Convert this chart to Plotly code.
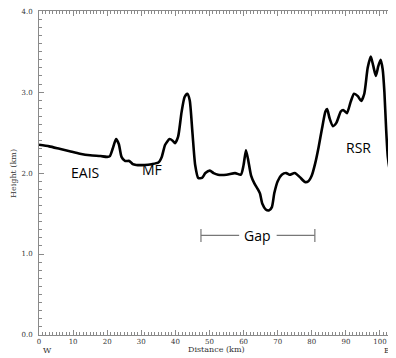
import plotly.graph_objects as go

# Profile data (distance km, height km)
distance_km = [0, 3, 6, 9, 12, 15, 18, 20, 20.8, 21.6, 22.6, 23.4, 24.2, 25.2, 26.5, 27.5, 28.5,
               31, 33, 35, 36, 37, 38.3, 39.2, 39.9, 40.8, 41.8, 42.7, 43.5, 44.2, 45.0, 45.8,
               46.7, 47.8, 48.8, 50.1, 51.2, 52.5, 55, 57.5, 59.2, 60, 60.7, 61.4, 62.2, 63.2,
               64.2, 64.8, 65.5, 66.5, 67.5, 68.3, 69, 70, 71.2, 72.5, 73.5, 75.0, 76.5, 78.0,
               79.0, 80.0, 81.0, 82.0, 83.0, 84.0, 84.5, 85.2, 86.2, 87.2, 88.5, 89.2, 90.3,
               91.4, 92.4, 93.5, 94.5, 95.4, 96.4, 97.3, 98.0, 98.8, 99.5, 100.2, 100.8, 101.3,
               101.8, 102.3, 102.9, 103.6, 104.7]
height_km = [2.35, 2.33, 2.30, 2.27, 2.24, 2.22, 2.21, 2.20, 2.21, 2.30, 2.42, 2.36, 2.20, 2.15,
             2.15, 2.11, 2.10, 2.10, 2.11, 2.13, 2.20, 2.35, 2.42, 2.40, 2.37, 2.45, 2.75, 2.94,
             2.98, 2.90, 2.50, 2.10, 1.94, 1.94, 2.00, 2.03, 2.00, 1.98, 1.98, 2.00, 1.98, 2.10,
             2.28, 2.15, 1.97, 1.87, 1.80, 1.75, 1.62, 1.55, 1.54, 1.58, 1.75, 1.90, 1.98, 2.00,
             1.98, 2.00, 1.95, 1.89, 1.90, 1.97, 2.12, 2.32, 2.55, 2.76, 2.79, 2.68, 2.58, 2.62,
             2.76, 2.78, 2.74, 2.88, 2.98, 2.95, 2.89, 2.98, 3.30, 3.44, 3.33, 3.20, 3.32, 3.40,
             3.28, 3.00, 2.55, 2.20, 2.04, 1.99, 1.98]

x_ticks = [0, 10, 20, 30, 40, 50, 60, 70, 80, 90, 100]
y_ticks = [0.0, 1.0, 2.0, 3.0, 4.0]
y_tick_labels = ["0.0", "1.0", "2.0", "3.0", "4.0"]

region_labels = ["EAIS", "MF", "RSR"]
region_x = [13.5, 33.1, 93.8]
region_y = [2.01, 2.04, 2.31]

gap_start, gap_end, gap_y, gap_label_x = 47.5, 80.9, 1.23, 64.2

x_range = [0, 104.7]
y_range = [0, 4.002]

fig = go.Figure()
fig.add_trace(go.Scatter(x=distance_km, y=height_km, mode="lines",
                         line=dict(color="black", width=2.6, shape="spline", smoothing=0.6),
                         hoverinfo="skip", showlegend=False))

axis_color = "#8a8a8a"
tick_font = dict(family="DejaVu Serif", size=7, color="#333333")

fig.update_xaxes(range=x_range, tickvals=x_ticks, ticks="inside", ticklen=5, tickcolor=axis_color,
                 tickwidth=1, showline=True, linecolor=axis_color, linewidth=1, mirror="ticks",
                 showgrid=False, zeroline=False, tickfont=tick_font,
                 minor=dict(dtick=1, tick0=0, ticks="inside", ticklen=3, tickcolor=axis_color,
                            showgrid=False))
fig.update_yaxes(range=y_range, tickvals=y_ticks, ticktext=y_tick_labels, ticks="inside", ticklen=5,
                 tickcolor=axis_color, tickwidth=1, showline=True, linecolor=axis_color, linewidth=1,
                 showgrid=False, zeroline=False, tickfont=tick_font, ticklabelstandoff=4,
                 ticklabeloverflow="allow",
                 minor=dict(dtick=0.1, tick0=0, ticks="inside", ticklen=3, tickcolor=axis_color,
                            showgrid=False))

label_font = dict(family="Open Sans", size=14, color="black")
for t, xx, yy in zip(region_labels, region_x, region_y):
    fig.add_annotation(x=xx, y=yy, text=t, showarrow=False, font=label_font,
                       xanchor="center", yanchor="middle")

# Gap bar
gap_color = "#777777"
half_text = 5.5
fig.add_shape(type="line", x0=gap_start, x1=gap_label_x - half_text, y0=gap_y, y1=gap_y,
              line=dict(color=gap_color, width=1.2))
fig.add_shape(type="line", x0=gap_label_x + half_text, x1=gap_end, y0=gap_y, y1=gap_y,
              line=dict(color=gap_color, width=1.2))
for gx in (gap_start, gap_end):
    fig.add_shape(type="line", x0=gx, x1=gx, y0=gap_y - 0.08, y1=gap_y + 0.08,
                  line=dict(color=gap_color, width=1.2))
fig.add_annotation(x=gap_label_x, y=gap_y, text="Gap", showarrow=False, font=label_font,
                   xanchor="center", yanchor="middle")

title_font = dict(family="DejaVu Serif", size=8, color="#333333")
fig.add_annotation(x=0.496, y=-0.046, xref="paper", yref="paper", text="Distance (km)",
                   showarrow=False, font=title_font, xanchor="center", yanchor="middle")
fig.add_annotation(x=0.025, y=-0.049, xref="paper", yref="paper", text="W",
                   showarrow=False, font=title_font, xanchor="center", yanchor="middle")
fig.add_annotation(x=0.975, y=-0.049, xref="paper", yref="paper", text="E",
                   showarrow=False, font=title_font, xanchor="center", yanchor="middle")
fig.add_annotation(x=-0.073, y=0.5, xref="paper", yref="paper", text="Height (km)",
                   showarrow=False, font=title_font, textangle=-90,
                   xanchor="center", yanchor="middle")

# page adds an 8px body margin, so the figure is offset by 8px
fig.update_layout(width=388, height=350, margin=dict(l=31, r=0, t=3, b=23, autoexpand=False),
                  plot_bgcolor="white", paper_bgcolor="white")

fig.write_html("out.html")
